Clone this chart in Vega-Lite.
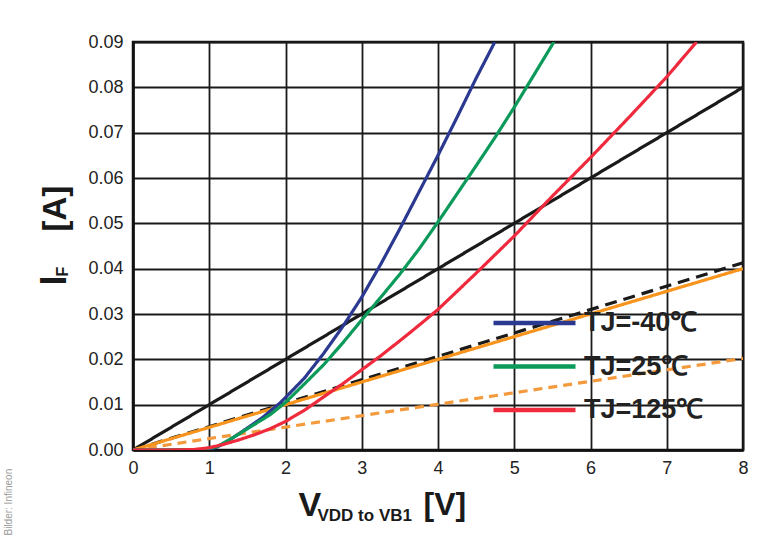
{
  "$schema": "https://vega.github.io/schema/vega-lite/v6.json",
  "width": 610,
  "height": 408,
  "autosize": "none",
  "padding": {"left": 133, "top": 42, "right": 26, "bottom": 89},
  "background": "#ffffff",
  "config": {
    "view": {"stroke": "#111111", "strokeWidth": 2.5},
    "axis": {"labelFont": "Liberation Sans, Arial", "titleFont": "Liberation Sans Narrow, Arial Narrow, Liberation Sans, Arial", "titleColor": "#1a1a1a", "labelColor": "#222222"}
  },
  "datasets": {
    "curves": [
      {"series": "Ref A", "voltage": 0, "current": 0},
      {"series": "Ref A", "voltage": 8, "current": 0.08},
      {"series": "Ref B", "voltage": 0, "current": 0},
      {"series": "Ref B", "voltage": 8, "current": 0.0413},
      {"series": "Ref D", "voltage": 0, "current": 0},
      {"series": "Ref D", "voltage": 8, "current": 0.0202},
      {"series": "Ref C", "voltage": 0, "current": 0},
      {"series": "Ref C", "voltage": 8, "current": 0.04},
      {"series": "TJ=-40℃", "voltage": 0, "current": 0},
      {"series": "TJ=-40℃", "voltage": 0.5, "current": 0},
      {"series": "TJ=-40℃", "voltage": 0.9, "current": 0},
      {"series": "TJ=-40℃", "voltage": 1.0, "current": 0.0002},
      {"series": "TJ=-40℃", "voltage": 1.1, "current": 0.0006},
      {"series": "TJ=-40℃", "voltage": 1.2, "current": 0.0015},
      {"series": "TJ=-40℃", "voltage": 1.3, "current": 0.0026},
      {"series": "TJ=-40℃", "voltage": 1.4, "current": 0.0037},
      {"series": "TJ=-40℃", "voltage": 1.53, "current": 0.0052},
      {"series": "TJ=-40℃", "voltage": 1.6, "current": 0.006},
      {"series": "TJ=-40℃", "voltage": 1.71, "current": 0.0073},
      {"series": "TJ=-40℃", "voltage": 1.8, "current": 0.0086},
      {"series": "TJ=-40℃", "voltage": 1.93, "current": 0.0104},
      {"series": "TJ=-40℃", "voltage": 2.1, "current": 0.0133},
      {"series": "TJ=-40℃", "voltage": 2.25, "current": 0.0159},
      {"series": "TJ=-40℃", "voltage": 2.5, "current": 0.0213},
      {"series": "TJ=-40℃", "voltage": 2.75, "current": 0.0272},
      {"series": "TJ=-40℃", "voltage": 3.0, "current": 0.0337},
      {"series": "TJ=-40℃", "voltage": 3.25, "current": 0.041},
      {"series": "TJ=-40℃", "voltage": 3.5, "current": 0.0488},
      {"series": "TJ=-40℃", "voltage": 3.75, "current": 0.0569},
      {"series": "TJ=-40℃", "voltage": 4.0, "current": 0.065},
      {"series": "TJ=-40℃", "voltage": 4.25, "current": 0.0734},
      {"series": "TJ=-40℃", "voltage": 4.5, "current": 0.082},
      {"series": "TJ=-40℃", "voltage": 4.745, "current": 0.09},
      {"series": "TJ=25℃", "voltage": 0, "current": 0},
      {"series": "TJ=25℃", "voltage": 0.5, "current": 0},
      {"series": "TJ=25℃", "voltage": 0.9, "current": 0.0001},
      {"series": "TJ=25℃", "voltage": 1.1, "current": 0.0007},
      {"series": "TJ=25℃", "voltage": 1.3, "current": 0.0026},
      {"series": "TJ=25℃", "voltage": 1.53, "current": 0.005},
      {"series": "TJ=25℃", "voltage": 1.8, "current": 0.0078},
      {"series": "TJ=25℃", "voltage": 2.0, "current": 0.0105},
      {"series": "TJ=25℃", "voltage": 2.25, "current": 0.0146},
      {"series": "TJ=25℃", "voltage": 2.5, "current": 0.0188},
      {"series": "TJ=25℃", "voltage": 2.75, "current": 0.0236},
      {"series": "TJ=25℃", "voltage": 3.0, "current": 0.0287},
      {"series": "TJ=25℃", "voltage": 3.25, "current": 0.0337},
      {"series": "TJ=25℃", "voltage": 3.5, "current": 0.0388},
      {"series": "TJ=25℃", "voltage": 3.75, "current": 0.0443},
      {"series": "TJ=25℃", "voltage": 4.0, "current": 0.0503},
      {"series": "TJ=25℃", "voltage": 4.25, "current": 0.0565},
      {"series": "TJ=25℃", "voltage": 4.5, "current": 0.0627},
      {"series": "TJ=25℃", "voltage": 4.75, "current": 0.069},
      {"series": "TJ=25℃", "voltage": 5.0, "current": 0.0756},
      {"series": "TJ=25℃", "voltage": 5.25, "current": 0.0825},
      {"series": "TJ=25℃", "voltage": 5.52, "current": 0.09},
      {"series": "TJ=125℃", "voltage": 0, "current": 0},
      {"series": "TJ=125℃", "voltage": 0.5, "current": 0},
      {"series": "TJ=125℃", "voltage": 0.8, "current": 0.0001},
      {"series": "TJ=125℃", "voltage": 1.0, "current": 0.0005},
      {"series": "TJ=125℃", "voltage": 1.2, "current": 0.0013},
      {"series": "TJ=125℃", "voltage": 1.4, "current": 0.0023},
      {"series": "TJ=125℃", "voltage": 1.6, "current": 0.0034},
      {"series": "TJ=125℃", "voltage": 1.8, "current": 0.0047},
      {"series": "TJ=125℃", "voltage": 2.0, "current": 0.0063},
      {"series": "TJ=125℃", "voltage": 2.25, "current": 0.0088},
      {"series": "TJ=125℃", "voltage": 2.5, "current": 0.0117},
      {"series": "TJ=125℃", "voltage": 2.75, "current": 0.0146},
      {"series": "TJ=125℃", "voltage": 3.0, "current": 0.0177},
      {"series": "TJ=125℃", "voltage": 3.25, "current": 0.0208},
      {"series": "TJ=125℃", "voltage": 3.5, "current": 0.0241},
      {"series": "TJ=125℃", "voltage": 3.75, "current": 0.0275},
      {"series": "TJ=125℃", "voltage": 4.0, "current": 0.031},
      {"series": "TJ=125℃", "voltage": 4.5, "current": 0.039},
      {"series": "TJ=125℃", "voltage": 5.0, "current": 0.0472},
      {"series": "TJ=125℃", "voltage": 5.5, "current": 0.056},
      {"series": "TJ=125℃", "voltage": 6.0, "current": 0.0645},
      {"series": "TJ=125℃", "voltage": 6.5, "current": 0.0733},
      {"series": "TJ=125℃", "voltage": 7.0, "current": 0.0823},
      {"series": "TJ=125℃", "voltage": 7.39, "current": 0.09}
    ]
  },
  "resolve": {"axis": {"x": "independent", "y": "independent"}},
  "layer": [
    {
      "data": {"name": "curves"},
      "mark": {"type": "line", "strokeWidth": 3.2, "clip": true},
      "encoding": {
        "x": {
          "field": "voltage", "type": "quantitative",
          "scale": {"domain": [0, 8], "nice": false, "zero": false},
          "axis": {
            "orient": "bottom", "values": [0, 1, 2, 3, 4, 5, 6, 7, 8], "format": "d",
            "labelFontSize": 18, "labelPadding": 9, "labelFlush": false,
            "ticks": false, "grid": true, "gridColor": "#1a1a1a", "gridWidth": 1.8, "gridOpacity": 1,
            "domainColor": "#111111", "domainWidth": 2.5,
            "title": "V", "titleFontSize": 34, "titleFontWeight": "bold",
            "titleAlign": "left", "titleBaseline": "alphabetic", "titleX": 165, "titleY": 65
          }
        },
        "y": {
          "field": "current", "type": "quantitative",
          "scale": {"domain": [0, 0.09], "nice": false, "zero": false},
          "axis": {
            "orient": "left", "values": [0, 0.01, 0.02, 0.03, 0.04, 0.05, 0.06, 0.07, 0.08, 0.09], "format": ".2f",
            "labelFontSize": 18, "labelPadding": 10, "labelFlush": false,
            "ticks": false, "grid": true, "gridColor": "#1a1a1a", "gridWidth": 1.8, "gridOpacity": 1,
            "domainColor": "#111111", "domainWidth": 2.5,
            "title": "I", "titleFontSize": 36, "titleFontWeight": "bold", "titleAngle": 270,
            "titleAlign": "left", "titleBaseline": "alphabetic", "titleX": -68, "titleY": 243
          }
        },
        "color": {
          "field": "series", "type": "nominal",
          "scale": {
            "domain": ["TJ=-40℃", "TJ=25℃", "TJ=125℃", "Ref A", "Ref B", "Ref C", "Ref D"],
            "range": ["#2b3990", "#0b9a5a", "#ee2a3c", "#1a1a1a", "#1a1a1a", "#f7941d", "#f39a3c"]
          },
          "legend": {
            "values": ["TJ=-40℃", "TJ=25℃", "TJ=125℃"],
            "title": null, "orient": "none", "legendX": 358, "legendY": 268,
            "padding": 0, "symbolType": "stroke", "symbolSize": 6724, "symbolStrokeWidth": 4.5,
            "clipHeight": 26, "rowPadding": 16.5, "labelOffset": 6,
            "labelFont": "Liberation Sans, Arial", "labelFontSize": 27, "labelFontWeight": "bold",
            "labelColor": "#222222", "labelLimit": 300
          }
        },
        "strokeDash": {
          "field": "series", "type": "nominal",
          "scale": {
            "domain": ["TJ=-40℃", "TJ=25℃", "TJ=125℃", "Ref A", "Ref B", "Ref C", "Ref D"],
            "range": [[1, 0], [1, 0], [1, 0], [1, 0], [12, 7], [1, 0], [9, 6]]
          },
          "legend": null
        }
      }
    },
    {
      "data": {"name": "curves"},
      "mark": {"type": "point", "opacity": 0, "size": 0},
      "encoding": {
        "x": {
          "field": "voltage", "type": "quantitative",
          "axis": {
            "orient": "bottom", "labels": false, "ticks": false, "domain": false, "grid": false,
            "title": "VDD to VB1", "titleFontSize": 17, "titleFontWeight": "bold",
            "titleAlign": "left", "titleBaseline": "alphabetic", "titleX": 184, "titleY": 70
          }
        },
        "y": {
          "field": "current", "type": "quantitative",
          "axis": {
            "orient": "left", "labels": false, "ticks": false, "domain": false, "grid": false,
            "title": "F", "titleFontSize": 16, "titleFontWeight": "bold", "titleAngle": 270,
            "titleAlign": "left", "titleBaseline": "alphabetic", "titleX": -66, "titleY": 234
          }
        }
      }
    },
    {
      "data": {"name": "curves"},
      "mark": {"type": "point", "opacity": 0, "size": 0},
      "encoding": {
        "x": {
          "field": "voltage", "type": "quantitative",
          "axis": {
            "orient": "bottom", "labels": false, "ticks": false, "domain": false, "grid": false,
            "title": "[V]", "titleFontSize": 32, "titleFontWeight": "bold",
            "titleAlign": "left", "titleBaseline": "alphabetic", "titleX": 290, "titleY": 64
          }
        },
        "y": {
          "field": "current", "type": "quantitative",
          "axis": {
            "orient": "left", "labels": false, "ticks": false, "domain": false, "grid": false,
            "title": "[A]", "titleFontSize": 33, "titleFontWeight": "bold", "titleAngle": 270,
            "titleAlign": "left", "titleBaseline": "alphabetic", "titleX": -68, "titleY": 189
          }
        }
      }
    },
    {
      "data": {"name": "curves"},
      "mark": {"type": "point", "opacity": 0, "size": 0},
      "encoding": {
        "y": {
          "field": "current", "type": "quantitative",
          "axis": {
            "orient": "left", "labels": false, "ticks": false, "domain": false, "grid": false,
            "title": "Bilder: Infineon", "titleFont": "Liberation Sans Narrow, Liberation Sans, Arial",
            "titleFontSize": 10, "titleFontWeight": "normal", "titleColor": "#9a9a9a", "titleAngle": 270,
            "titleAlign": "left", "titleBaseline": "alphabetic", "titleX": -122, "titleY": 493
          }
        }
      }
    }
  ]
}
